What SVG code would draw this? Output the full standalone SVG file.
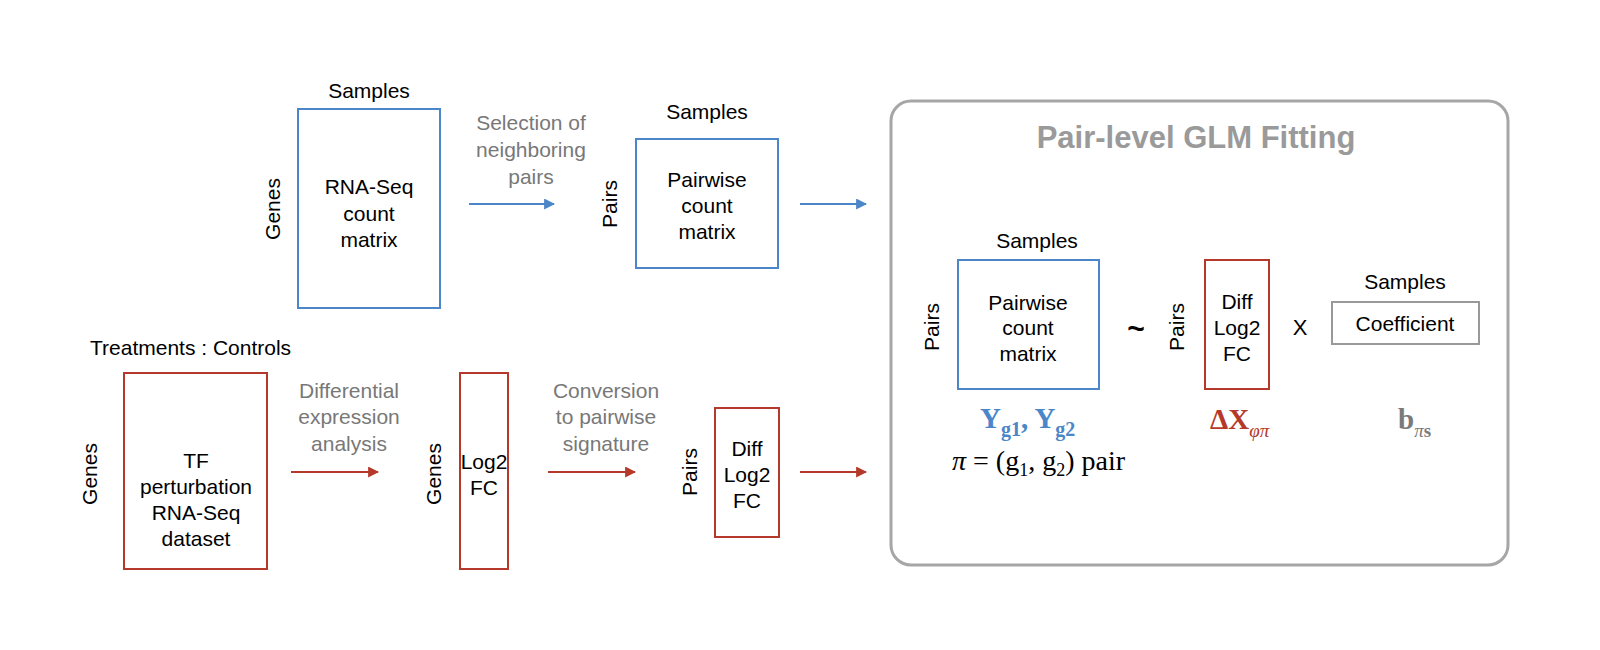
<svg xmlns="http://www.w3.org/2000/svg" width="1600" height="650" viewBox="0 0 1600 650">
<defs>
<style>
.t{font-family:"Liberation Sans",Arial,sans-serif;font-size:21px;fill:#000;text-anchor:middle}
.lab{font-family:"Liberation Sans",Arial,sans-serif;font-size:21px;fill:#787878;text-anchor:middle}
.bb{fill:#fff;stroke:#4a86c8;stroke-width:2}
.rb{fill:#fff;stroke:#b5392a;stroke-width:2}
.gb{fill:#fff;stroke:#999;stroke-width:2}
.ba{stroke:#4a86c8;stroke-width:2;fill:none}
.ra{stroke:#b5392a;stroke-width:2;fill:none}
.m{font-family:"Liberation Serif","Times New Roman",serif}
</style>
<marker id="ah-b" viewBox="0 0 10 10" refX="9" refY="5" markerWidth="5.5" markerHeight="5.5" orient="auto" markerUnits="strokeWidth"><path d="M0,0 L10,5 L0,10 Z" fill="#4a86c8"/></marker>
<marker id="ah-r" viewBox="0 0 10 10" refX="9" refY="5" markerWidth="5.5" markerHeight="5.5" orient="auto" markerUnits="strokeWidth"><path d="M0,0 L10,5 L0,10 Z" fill="#b5392a"/></marker>
</defs>
<rect width="1600" height="650" fill="#fff"/>

<g id="connectors">
<line class="ba" x1="469" y1="204" x2="554" y2="204" marker-end="url(#ah-b)"/>
<line class="ba" x1="800" y1="204" x2="866" y2="204" marker-end="url(#ah-b)"/>
<line class="ra" x1="291" y1="472" x2="378" y2="472" marker-end="url(#ah-r)"/>
<line class="ra" x1="548" y1="472" x2="635" y2="472" marker-end="url(#ah-r)"/>
<line class="ra" x1="800" y1="472" x2="866" y2="472" marker-end="url(#ah-r)"/>
<text class="lab"><tspan x="531" y="130">Selection of</tspan><tspan x="531" y="157">neighboring</tspan><tspan x="531" y="184">pairs</tspan></text>
<text class="lab"><tspan x="349" y="398">Differential</tspan><tspan x="349" y="424">expression</tspan><tspan x="349" y="451">analysis</tspan></text>
<text class="lab"><tspan x="606" y="398">Conversion</tspan><tspan x="606" y="424">to pairwise</tspan><tspan x="606" y="451">signature</tspan></text>
</g>

<g id="rnaseq-matrix">
<text class="t" x="369" y="98">Samples</text>
<text class="t" transform="translate(280,209) rotate(-90)">Genes</text>
<rect class="bb" x="298" y="109" width="142" height="199"/>
<text class="t"><tspan x="369" y="194">RNA-Seq</tspan><tspan x="369" y="220.5">count</tspan><tspan x="369" y="247">matrix</tspan></text>
</g>

<g id="pairwise-matrix">
<text class="t" x="707" y="119">Samples</text>
<text class="t" transform="translate(617,204) rotate(-90)">Pairs</text>
<rect class="bb" x="636" y="139" width="142" height="129"/>
<text class="t"><tspan x="707" y="187">Pairwise</tspan><tspan x="707" y="213">count</tspan><tspan x="707" y="239">matrix</tspan></text>
</g>

<g id="tf-dataset">
<text class="t" x="90" y="355" style="text-anchor:start">Treatments : Controls</text>
<text class="t" transform="translate(97,474) rotate(-90)">Genes</text>
<rect class="rb" x="124" y="373" width="143" height="196"/>
<text class="t"><tspan x="196" y="468">TF</tspan><tspan x="196" y="494">perturbation</tspan><tspan x="196" y="520">RNA-Seq</tspan><tspan x="196" y="546">dataset</tspan></text>
</g>

<g id="log2fc">
<text class="t" transform="translate(441,474) rotate(-90)">Genes</text>
<rect class="rb" x="460" y="373" width="48" height="196"/>
<text class="t"><tspan x="484" y="469">Log2</tspan><tspan x="484" y="495">FC</tspan></text>
</g>

<g id="diff-log2fc">
<text class="t" transform="translate(697,472) rotate(-90)">Pairs</text>
<rect class="rb" x="715" y="408" width="64" height="129"/>
<text class="t"><tspan x="747" y="456">Diff</tspan><tspan x="747" y="482">Log2</tspan><tspan x="747" y="508">FC</tspan></text>
</g>

<g id="glm-panel">
<rect x="891" y="101" width="617" height="464" rx="20" ry="20" fill="none" stroke="#a6a6a6" stroke-width="3"/>
<text x="1196" y="148" style="font-family:'Liberation Sans',Arial,sans-serif;font-size:31px;font-weight:bold;fill:#9a9a9a;text-anchor:middle">Pair-level GLM Fitting</text>
</g>

<g id="glm-pairwise">
<text class="t" x="1037" y="248">Samples</text>
<text class="t" transform="translate(939,327) rotate(-90)">Pairs</text>
<rect class="bb" x="958" y="260" width="141" height="129"/>
<text class="t"><tspan x="1028" y="310">Pairwise</tspan><tspan x="1028" y="335">count</tspan><tspan x="1028" y="361">matrix</tspan></text>
<text class="m" x="980" y="428" font-weight="bold" font-size="29" fill="#4a86c8">Y<tspan font-size="20" dy="8">g1</tspan><tspan dy="-8">, Y</tspan><tspan font-size="20" dy="8">g2</tspan></text>
<text class="m" x="952" y="470" font-size="28" fill="#000"><tspan font-style="italic">π</tspan> = (g<tspan font-size="18" dy="6">1</tspan><tspan dy="-6">, g</tspan><tspan font-size="18" dy="6">2</tspan><tspan dy="-6">) pair</tspan></text>
</g>

<g id="tilde">
<text class="t" x="1136" y="339" style="font-size:30px;font-weight:bold">~</text>
</g>

<g id="glm-diff">
<text class="t" transform="translate(1184,327) rotate(-90)">Pairs</text>
<rect class="rb" x="1205" y="260" width="64" height="129"/>
<text class="t"><tspan x="1237" y="309">Diff</tspan><tspan x="1237" y="335">Log2</tspan><tspan x="1237" y="361">FC</tspan></text>
<text class="m" x="1210" y="429" font-weight="bold" font-size="29" fill="#b5392a">ΔX<tspan font-size="19" dy="8" font-style="italic" font-weight="normal">φπ</tspan></text>
</g>

<g id="times">
<text class="t" x="1300" y="335" style="font-size:22px">X</text>
</g>

<g id="glm-coefficient">
<text class="t" x="1405" y="289">Samples</text>
<rect class="gb" x="1332" y="302" width="147" height="42"/>
<text class="t" x="1405" y="331">Coefficient</text>
<text class="m" x="1398" y="429" font-weight="bold" font-size="29" fill="#7a7a7a">b<tspan font-size="19" dy="8"><tspan font-style="italic" font-weight="normal">π</tspan>s</tspan></text>
</g>
</svg>
